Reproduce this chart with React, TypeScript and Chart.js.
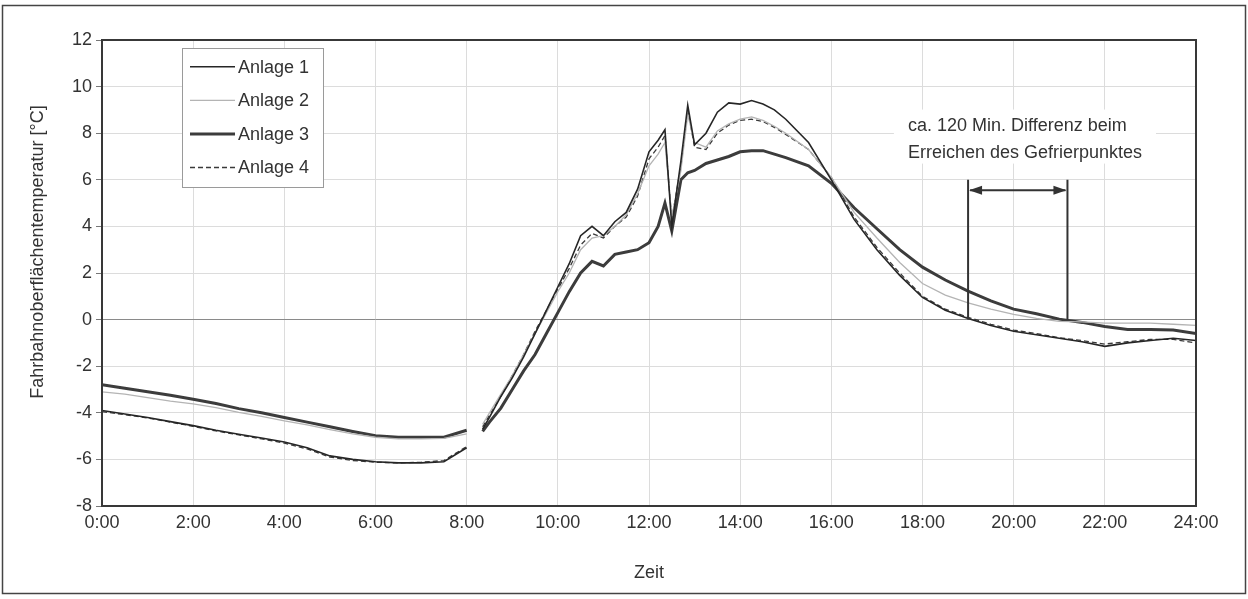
import React, { useEffect, useRef } from "react";
import { Chart, registerables } from "chart.js";
Chart.register(...registerables);

const hours = [
  0, 0.5, 1, 1.5, 2, 2.5, 3, 3.5, 4, 4.5, 5, 5.5, 6, 6.5, 7, 7.5, 8,
  8.2,
  8.35, 8.5, 8.75, 9, 9.25, 9.5, 9.75, 10, 10.25, 10.5, 10.75, 11, 11.25, 11.5, 11.75, 12,
  12.2, 12.35, 12.5, 12.7, 12.85, 13, 13.25, 13.5, 13.75, 14, 14.25, 14.5, 14.75, 15,
  15.5, 16, 16.5, 17, 17.5, 18, 18.5, 19, 19.5, 20, 20.5, 21, 21.5, 22, 22.5, 23, 23.5, 24,
];

const anlage1 = [
  -3.9, -4.05, -4.2, -4.38, -4.55, -4.75, -4.92, -5.08, -5.25, -5.5, -5.85, -6.0, -6.1, -6.15, -6.15, -6.1, -5.5,
  null,
  -4.7, -4.2, -3.3, -2.5, -1.6, -0.6, 0.4, 1.4, 2.4, 3.6, 4.0, 3.6, 4.2, 4.6, 5.6, 7.2,
  7.7, 8.15, 4.0, 6.8, 9.2, 7.5, 8.0, 8.9, 9.3, 9.25, 9.4, 9.25, 9.0, 8.6,
  7.6, 6.0, 4.3, 3.0, 1.9, 0.95, 0.4, 0.05, -0.25, -0.5, -0.65, -0.8, -0.95, -1.15, -1.0, -0.9, -0.8, -0.9,
];

const anlage2 = [
  -3.1, -3.2, -3.35, -3.5, -3.62, -3.78, -3.98, -4.15, -4.35, -4.52, -4.72, -4.9, -5.05, -5.12, -5.12, -5.1, -4.9,
  null,
  -4.5, -4.0, -3.2, -2.4, -1.5, -0.6, 0.3, 1.2, 2.0, 3.0, 3.5, 3.6, 4.0, 4.5, 5.4, 6.6,
  7.1, 7.6, 4.4, 6.4, 8.8, 7.6, 7.4, 8.1, 8.4, 8.6, 8.7, 8.55, 8.3, 8.0,
  7.3, 6.1, 4.6, 3.5, 2.45, 1.55, 1.05, 0.72, 0.45, 0.22, 0.05, -0.08, -0.1, -0.15, -0.15, -0.15, -0.2, -0.25,
];

const anlage3 = [
  -2.8, -2.95, -3.1, -3.25, -3.42, -3.6, -3.82, -4.0, -4.2, -4.4, -4.6, -4.8, -4.98, -5.05, -5.05, -5.05, -4.75,
  null,
  -4.8, -4.4, -3.8, -3.0, -2.2, -1.5, -0.6, 0.3, 1.2, 2.0, 2.5, 2.3, 2.8, 2.9, 3.0, 3.3,
  4.0, 5.0, 3.8, 6.0, 6.3, 6.4, 6.7, 6.85, 7.0, 7.2, 7.25, 7.25, 7.1, 6.95,
  6.6, 5.85, 4.8, 3.9, 3.0, 2.25, 1.7, 1.22, 0.8, 0.45, 0.25, 0.02, -0.12, -0.3, -0.42, -0.42, -0.45, -0.6,
];

const anlage4 = [
  -3.95, -4.08, -4.22, -4.4, -4.58, -4.78, -4.95, -5.12, -5.3, -5.55, -5.9, -6.05, -6.12, -6.15, -6.12, -6.05, -5.45,
  null,
  -4.6, -4.1, -3.3, -2.4, -1.5, -0.5, 0.4, 1.3, 2.2, 3.2, 3.7, 3.5, 4.0, 4.4, 5.3, 6.9,
  7.4, 7.9, 4.3, 6.6, 9.0, 7.4, 7.3, 8.0, 8.35, 8.55, 8.6, 8.5, 8.25, 7.95,
  7.3, 6.1, 4.4, 3.1, 2.0, 1.0, 0.45, 0.1, -0.2, -0.45, -0.6, -0.78, -0.9, -1.05, -0.95, -0.85, -0.85, -1.0,
];

const seriesNames = ["Anlage 1", "Anlage 2", "Anlage 3", "Anlage 4"];
const xTitle = "Zeit";
const yTitle = "Fahrbahnoberflächentemperatur [°C]";

const freezeStart = 19.0;
const freezeEnd = 21.18;
const arrowLevel = 5.55;
const markerTop = 6.0;
const noteLines = ["ca. 120 Min. Differenz beim", "Erreichen des Gefrierpunktes"];
const noteX = 17.68;
const noteY = [8.37, 7.21];

const FONT = "'Liberation Sans', Arial, sans-serif";
const TEXT = "#333";

const styles = [
  { color: "#262626", width: 1.6, dash: [] as number[] },
  { color: "#b4b4b4", width: 1.3, dash: [] as number[] },
  { color: "#3c3c3c", width: 3, dash: [] as number[] },
  { color: "#3a3a3a", width: 1.3, dash: [5, 3] },
];

const extrasPlugin = {
  id: "extras",
  afterDatasetsDraw(chart: any) {
    const { ctx, chartArea, scales } = chart;
    const xs = scales.x;
    const ys = scales.y;
    ctx.save();

    // y axis title
    ctx.save();
    ctx.translate(38, 252);
    ctx.rotate(-Math.PI / 2);
    ctx.font = `18px ${FONT}`;
    ctx.fillStyle = TEXT;
    ctx.textAlign = "center";
    ctx.textBaseline = "middle";
    ctx.fillText(yTitle, 0, 0);
    ctx.restore();

    // legend box
    const bx = 182.5, by = 48.5, bw = 141, bh = 139;
    ctx.fillStyle = "#fff";
    ctx.fillRect(bx, by, bw, bh);
    ctx.strokeStyle = "#9a9a9a";
    ctx.lineWidth = 1;
    ctx.strokeRect(bx, by, bw, bh);
    ctx.font = `18px ${FONT}`;
    ctx.textBaseline = "middle";
    ctx.textAlign = "left";
    seriesNames.forEach((name, i) => {
      const ry = 66.7 + i * 33.6;
      const st = styles[i];
      ctx.beginPath();
      ctx.strokeStyle = st.color;
      ctx.lineWidth = st.width;
      ctx.setLineDash(st.dash);
      ctx.moveTo(190, ry);
      ctx.lineTo(235, ry);
      ctx.stroke();
      ctx.setLineDash([]);
      ctx.fillStyle = TEXT;
      ctx.fillText(name, 238, ry + 1);
    });

    // annotation note
    const tx = xs.getPixelForValue(noteX);
    const y1 = ys.getPixelForValue(noteY[0]);
    const y2 = ys.getPixelForValue(noteY[1]);
    ctx.font = `18px ${FONT}`;
    const w = Math.max(...noteLines.map((l) => ctx.measureText(l).width));
    ctx.fillStyle = "#fff";
    ctx.fillRect(tx - 14, y1 - 15, w + 28, y2 - y1 + 27);
    ctx.fillStyle = TEXT;
    noteLines.forEach((l, i) => ctx.fillText(l, tx, (i === 0 ? y1 : y2) + 1));

    // markers
    const xa = xs.getPixelForValue(freezeStart);
    const xb = xs.getPixelForValue(freezeEnd);
    const yt = ys.getPixelForValue(markerTop);
    const y0 = ys.getPixelForValue(0);
    const ya = ys.getPixelForValue(arrowLevel);
    ctx.strokeStyle = "#333";
    ctx.lineWidth = 2;
    ctx.beginPath();
    ctx.moveTo(xa, yt);
    ctx.lineTo(xa, y0);
    ctx.moveTo(xb, yt);
    ctx.lineTo(xb, y0);
    ctx.moveTo(xa + 2, ya);
    ctx.lineTo(xb - 2, ya);
    ctx.stroke();
    ctx.fillStyle = "#333";
    ctx.beginPath();
    ctx.moveTo(xa + 1, ya);
    ctx.lineTo(xa + 14, ya - 4.5);
    ctx.lineTo(xa + 14, ya + 4.5);
    ctx.closePath();
    ctx.fill();
    ctx.beginPath();
    ctx.moveTo(xb - 1, ya);
    ctx.lineTo(xb - 14, ya - 4.5);
    ctx.lineTo(xb - 14, ya + 4.5);
    ctx.closePath();
    ctx.fill();

    // plot frame
    ctx.strokeStyle = "#383838";
    ctx.lineWidth = 2;
    ctx.strokeRect(chartArea.left, chartArea.top, chartArea.right - chartArea.left, chartArea.bottom - chartArea.top);
    ctx.restore();
  },
  afterDraw(chart: any) {
    const { ctx } = chart;
    ctx.save();
    ctx.strokeStyle = "#444";
    ctx.lineWidth = 1.5;
    ctx.strokeRect(2.5, 5.5, 1243, 588);
    ctx.restore();
  },
};

export default function App() {
  const ref = useRef<HTMLCanvasElement | null>(null);
  useEffect(() => {
    document.body.style.margin = "0";
    if (!ref.current) return;
    const all = [anlage1, anlage2, anlage3, anlage4];
    const chart = new Chart(ref.current, {
      type: "line",
      data: {
        datasets: all.map((vals, i) => ({
          label: seriesNames[i],
          data: hours.map((h, j) => ({ x: h, y: vals[j] })),
          borderColor: styles[i].color,
          borderWidth: styles[i].width,
          borderDash: styles[i].dash,
          pointRadius: 0,
          fill: false,
          tension: 0,
          spanGaps: false,
        })),
      },
      options: {
        animation: false,
        responsive: false,
        maintainAspectRatio: false,
        layout: { padding: { left: 0, top: 40, right: 52, bottom: 0 } },
        plugins: { legend: { display: false }, tooltip: { enabled: false } },
        scales: {
          x: {
            type: "linear",
            min: 0,
            max: 24,
            border: { display: false },
            grid: { color: "#dcdcdc", lineWidth: 1, drawTicks: false },
            ticks: {
              stepSize: 2,
              padding: 6,
              color: TEXT,
              font: { family: FONT, size: 18 },
              maxRotation: 0,
              callback: (v: any) => `${v}:00`,
            },
            title: {
              display: true,
              text: xTitle,
              color: TEXT,
              font: { family: FONT, size: 18 },
              padding: { top: 0, bottom: 15 },
            },
            afterFit: (s: any) => {
              s.height = 93;
            },
          },
          y: {
            min: -8,
            max: 12,
            border: { display: false },
            grid: {
              color: (c: any) => (c.tick && c.tick.value === 0 ? "#8a8a8a" : "#dcdcdc"),
              lineWidth: 1,
              tickLength: 6,
              tickColor: "#777",
            },
            ticks: {
              stepSize: 2,
              padding: 4,
              color: TEXT,
              font: { family: FONT, size: 18 },
            },
            afterFit: (s: any) => {
              s.width = 102;
            },
          },
        },
      },
      plugins: [extrasPlugin],
    });
    return () => chart.destroy();
  }, []);
  return (
    <div style={{ width: 1248, height: 599, background: "#fff" }}>
      <canvas ref={ref} width={1248} height={599} style={{ display: "block" }} />
    </div>
  );
}
